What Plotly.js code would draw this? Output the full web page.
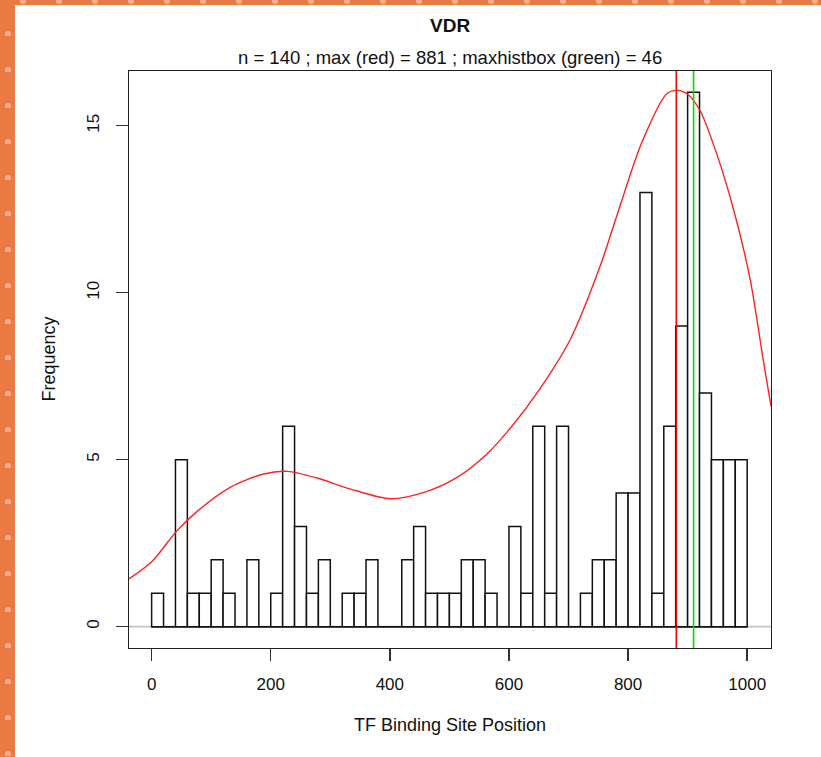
<!DOCTYPE html>
<html>
<head>
<meta charset="utf-8">
<script src="https://cdn.plot.ly/plotly-3.0.1.min.js"></script>
<style>
  html, body { margin: 0; padding: 0; width: 821px; height: 757px; overflow: hidden; background: #ffffff; }
  #leftStrip { position: absolute; left: 0; top: 0; width: 15px; height: 757px; background-color: #E97A42;
    background-image: radial-gradient(circle at 8px 34px, rgba(255,205,180,0.6) 0 2.8px, transparent 3.4px);
    background-size: 15px 36px; }
  #topStrip { position: absolute; left: 0; top: 0; width: 821px; height: 5px; background-color: #E97A42;
    background-image: radial-gradient(circle at 23px 1px, rgba(255,205,180,0.6) 0 2.8px, transparent 3.4px);
    background-size: 36px 5px; }
  #chart { position: absolute; left: 15px; top: 5px; width: 806px; height: 752px; }
</style>
</head>
<body>
<div id="leftStrip"></div>
<div id="topStrip"></div>
<div id="chart"></div>
<script>
// ---- data ----
const binWidth = 20;
const binStarts = [0,20,40,60,80,100,120,140,160,180,
                   200,220,240,260,280,300,320,340,360,380,
                   400,420,440,460,480,500,520,540,560,580,
                   600,620,640,660,680,700,720,740,760,780,
                   800,820,840,860,880,900,920,940,960,980];
const binCounts = [1,0,5,1,1,2,1,0,2,0,
                   1,6,3,1,2,0,1,1,2,0,
                   0,2,3,1,1,1,2,2,1,0,
                   3,1,6,1,6,0,1,2,2,4,
                   4,13,1,6,9,16,7,5,5,5];
const densityX = [-38, 1, 42, 77, 132, 188, 228, 278, 334, 401, 457, 513, 563, 608, 653, 703, 753, 781, 823, 865, 883, 901, 921, 949, 977, 1005, 1027, 1040];
const densityY = [1.43, 1.96, 2.86, 3.46, 4.17, 4.57, 4.65, 4.45, 4.12, 3.83, 4.02, 4.47, 5.17, 6.07, 7.15, 8.6, 10.79, 12.3, 14.5, 15.96, 16.06, 15.93, 15.45, 14.15, 12.5, 10.4, 7.98, 6.6];
const maxRed = [881];
const maxHistBoxCenter = [910];
const xTicks = [0, 200, 400, 600, 800, 1000];
const yTicks = [0, 5, 10, 15];
const titleText = "VDR";
const subtitleText = "n = 140 ; max (red) = 881 ; maxhistbox (green) = 46";
const xTitle = "TF Binding Site Position";
const yTitle = "Frequency";

const binCenters = binStarts.map(s => s + binWidth / 2);
const font = "'Liberation Sans', Arial, Helvetica, sans-serif";
const ink = "#111111";

const traces = [
  {
    type: "bar",
    x: binCenters,
    y: binCounts,
    width: binWidth,
    marker: { color: "rgba(255,255,255,1)", line: { color: "#111", width: 1.5 } },
    hoverinfo: "x+y",
    showlegend: false
  },
  {
    type: "scatter",
    mode: "lines",
    x: densityX,
    y: densityY,
    line: { color: "#FF2020", width: 1.4, shape: "spline", smoothing: 0.8 },
    hoverinfo: "skip",
    showlegend: false
  }
];

const shapes = [
  { type: "line", xref: "paper", yref: "y", x0: 0, x1: 1, y0: 0, y1: 0,
    line: { color: "#c4c4c4", width: 1.6 }, layer: "below" },
  { type: "line", xref: "x", yref: "y", x0: binStarts[0], x1: binStarts[binStarts.length - 1] + binWidth, y0: 0, y1: 0,
    line: { color: "#111", width: 1.5 }, layer: "above" },
  { type: "line", xref: "x", yref: "paper", x0: maxRed[0], x1: maxRed[0], y0: 0, y1: 1,
    line: { color: "#FF0000", width: 1.6 }, layer: "above" },
  { type: "line", xref: "x", yref: "paper", x0: maxHistBoxCenter[0], x1: maxHistBoxCenter[0], y0: 0, y1: 1,
    line: { color: "#00E000", width: 1.6 }, layer: "above" }
];

const annotations = [
  { text: "<b>" + titleText + "</b>", xref: "paper", yref: "paper", x: 0.5, y: 1, yshift: 46,
    xanchor: "center", yanchor: "middle", showarrow: false, font: { family: font, size: 19, color: ink } },
  { text: subtitleText, xref: "paper", yref: "paper", x: 0.5, y: 1, yshift: 14,
    xanchor: "center", yanchor: "middle", showarrow: false, font: { family: font, size: 18.5, color: ink } },
  { text: xTitle, xref: "paper", yref: "paper", x: 0.5, y: 0, yshift: -77,
    xanchor: "center", yanchor: "middle", showarrow: false, font: { family: font, size: 18, color: ink } },
  { text: yTitle, xref: "paper", yref: "paper", x: 0, y: 0.5, xshift: -81, textangle: -90,
    xanchor: "center", yanchor: "middle", showarrow: false, font: { family: font, size: 18, color: ink } }
];

const layout = {
  width: 806,
  height: 752,
  margin: { l: 114, r: 50, t: 66, b: 109, pad: 0 },
  paper_bgcolor: "#ffffff",
  plot_bgcolor: "#ffffff",
  bargap: 0,
  font: { family: font, size: 17, color: ink },
  xaxis: {
    range: [-38, 1040],
    tickmode: "array", tickvals: xTicks, ticktext: xTicks.map(String),
    ticks: "outside", ticklen: 12, tickwidth: 1.4, tickcolor: "#333",
    ticklabelstandoff: 8,
    showline: true, mirror: true, linecolor: "#222", linewidth: 1.4,
    showgrid: false, zeroline: false,
    tickfont: { family: font, size: 17, color: ink }
  },
  yaxis: {
    range: [-0.64, 16.64],
    tickmode: "array", tickvals: yTicks, ticktext: yTicks.map(String),
    tickangle: -90,
    ticks: "outside", ticklen: 12, tickwidth: 1.4, tickcolor: "#333",
    ticklabelstandoff: 10,
    showline: true, mirror: true, linecolor: "#222", linewidth: 1.4,
    showgrid: false, zeroline: false,
    tickfont: { family: font, size: 17, color: ink }
  },
  shapes: shapes,
  annotations: annotations,
  showlegend: false
};

Plotly.newPlot("chart", traces, layout, { displayModeBar: false, staticPlot: true });
</script>
</body>
</html>
